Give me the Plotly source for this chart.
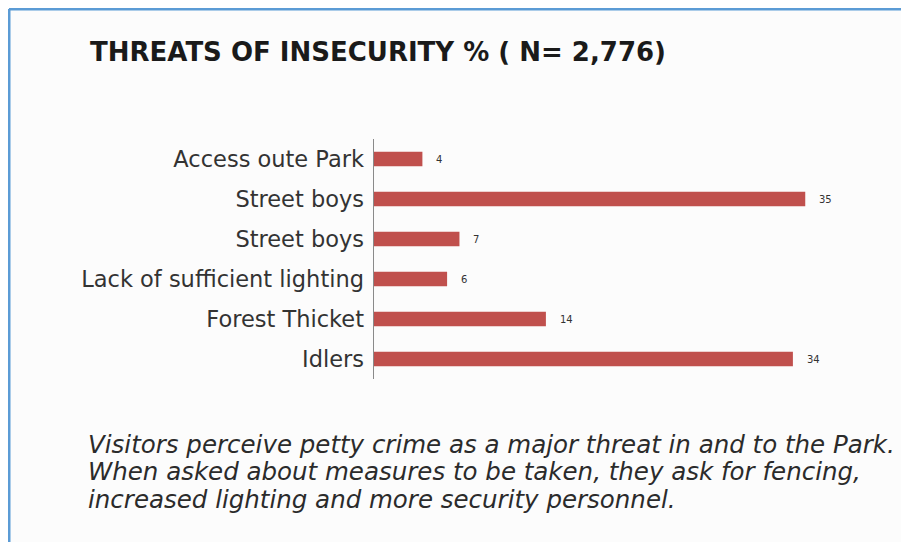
import plotly.graph_objects as go

# threats of insecurity, share of respondents in %
threats = ["Access oute Park", "Street boys", "Street boys",
           "Lack of sufficient lighting", "Forest Thicket", "Idlers"]
percent = [4, 35, 7, 6, 14, 34]
positions = list(range(len(threats)))

title_text = "THREATS OF INSECURITY % ( N= 2,776)"
caption_lines = ["Visitors perceive petty crime as a major threat in and to the Park.",
                 "When asked about measures to be taken, they ask for fencing,",
                 "increased lighting and more security personnel."]

OFF = 8  # page body margin that the html adds around the figure
# keep figure + body margins inside the 909x550 window (no scrollbars)
W, H = 909 - 2 * OFF, 550 - 2 * OFF
# plot area in page pixels
PX_LEFT, PX_RIGHT, PX_TOP, PX_BOTTOM = 373, 867, 139, 379
L, T = PX_LEFT - OFF, PX_TOP - OFF
R, B = W - (PX_RIGHT - OFF), H - (PX_BOTTOM - OFF)
BAR_RED = "#c0504d"
FRAME_BLUE = "#5b9bd5"
FONT = "DejaVu Sans"


def px_x(x):
    # page pixel -> paper coords (plot area)
    return (x - PX_LEFT) / (PX_RIGHT - PX_LEFT)


def px_y(y):
    return (PX_BOTTOM - y) / (PX_BOTTOM - PX_TOP)


fig = go.Figure()
fig.add_trace(go.Bar(
    x=percent, y=positions, orientation="h",
    marker=dict(color=BAR_RED, line=dict(width=0)),
    width=0.36, hoverinfo="skip",
))

# value labels a little right of each bar
for v, p in zip(percent, positions):
    fig.add_annotation(x=v, y=p, text=str(v), showarrow=False,
                       xanchor="left", xshift=12,
                       font=dict(family=FONT, size=10, color="#333"))

# caption, one annotation per line to keep the tight line spacing
for i, line in enumerate(caption_lines):
    fig.add_annotation(xref="paper", yref="paper", x=px_x(86),
                       y=px_y(444 + i * 27.5),
                       xanchor="left", yanchor="middle", align="left",
                       text=line, showarrow=False,
                       font=dict(family=FONT, size=24.5, color="#2b2b2b",
                                 style="italic"))

# blue frame (top and left edges of the cropped box)
fig.add_shape(type="line", xref="paper", yref="paper",
              x0=px_x(9), x1=px_x(930), y0=px_y(9), y1=px_y(9),
              line=dict(color=FRAME_BLUE, width=3))
fig.add_shape(type="line", xref="paper", yref="paper",
              x0=px_x(9), x1=px_x(9), y0=px_y(9), y1=px_y(570),
              line=dict(color=FRAME_BLUE, width=3))

fig.update_layout(
    width=W, height=H,
    margin=dict(l=L, r=R, t=T, b=B),
    paper_bgcolor="#fcfcfc", plot_bgcolor="#fcfcfc",
    showlegend=False,
    title=dict(text=title_text, xref="container", yref="container",
               x=(90 - OFF) / W, y=1 - (52 - OFF) / H,
               xanchor="left", yanchor="middle",
               font=dict(family=FONT, size=26, color="#1a1a1a",
                         weight="bold")),
    xaxis=dict(range=[0, 40], visible=False, fixedrange=True),
    yaxis=dict(tickvals=positions, ticktext=threats,
               range=[5.5, -0.5], showgrid=False, zeroline=False,
               showline=False, ticks="", ticklabelstandoff=8,
               tickfont=dict(family=FONT, size=22.5, color="#333")),
)

# the vertical axis rule at zero
fig.add_shape(type="line", xref="x", yref="paper", x0=0, x1=0, y0=0, y1=1,
              line=dict(color="#8a8a8a", width=2))

fig.write_html("out.html")
